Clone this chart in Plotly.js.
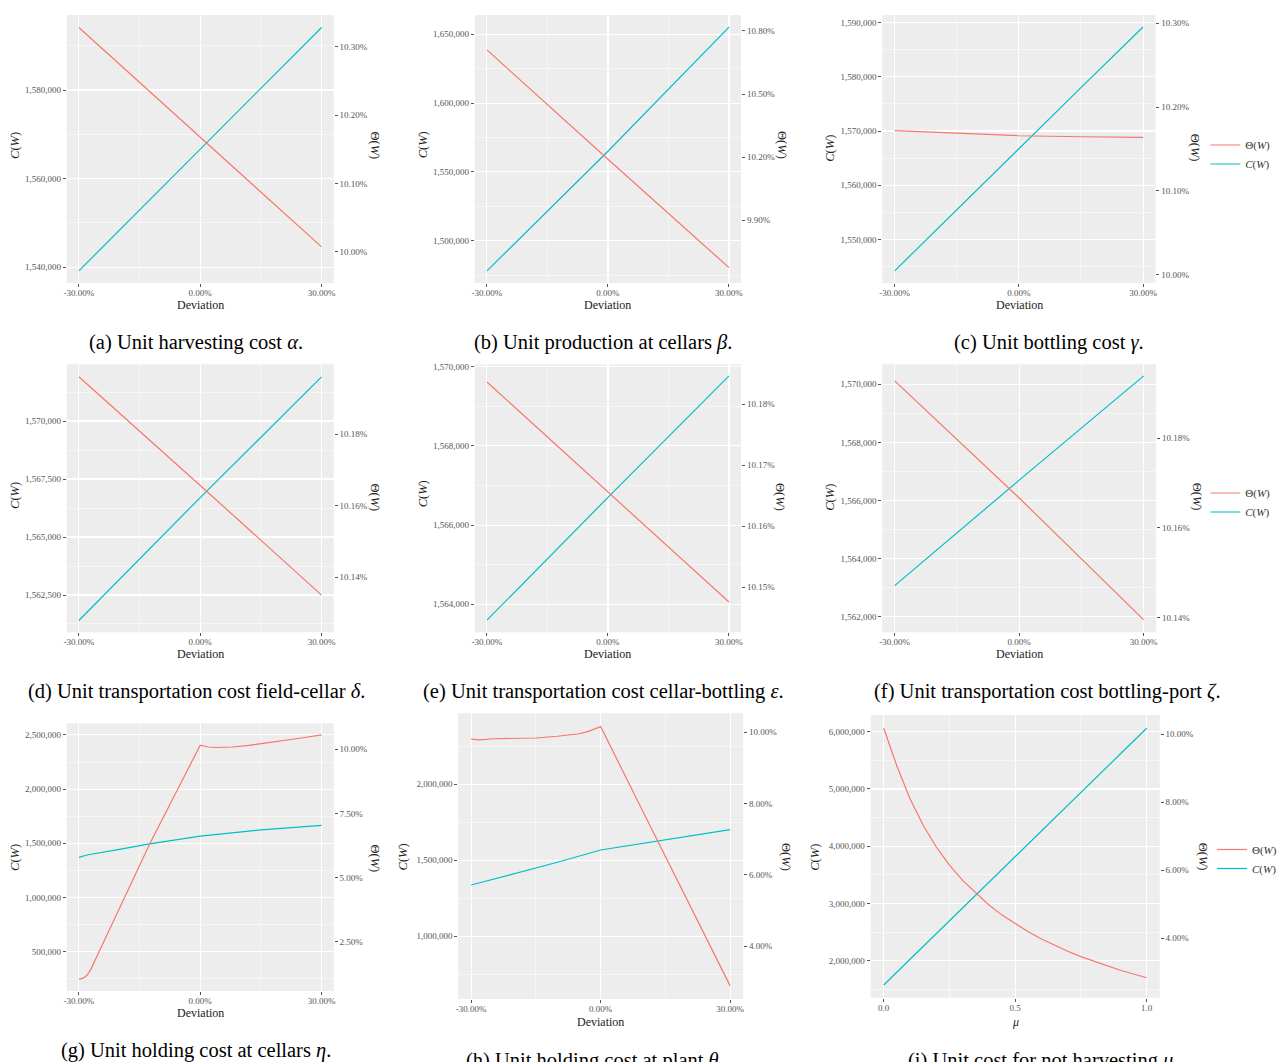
<!DOCTYPE html>
<html>
<head>
<meta charset="utf-8">
<script src="https://cdn.plot.ly/plotly-3.0.1.min.js"></script>
<style>html,body{margin:0;padding:0;background:#fff;overflow:hidden;}#chart{width:1282px;height:1062px;}</style>
</head>
<body>
<div id="chart"></div>
<script>
// ---------------- DATA ----------------
const dev3 = [-30, 0, 30];               // deviation (%) for straight-line panels
const devTicks = [-30, 0, 30];
const devTickText = ['-30.00%', '0.00%', '30.00%'];

// (a) harvesting cost alpha
const costA  = [1539200, 1566700, 1594100];
const thetaA = [10.328, 10.167, 10.007];
// (b) production at cellars beta
const costB  = [1478200, 1565000, 1655100];
const thetaB = [10.710, 10.190, 9.675];
// (c) bottling cost gamma
const devC   = [-30, -15, 0, 15, 30];
const costC  = [1544200, 1555500, 1566700, 1578000, 1589200];
const thetaC = [10.1717, 10.1686, 10.1657, 10.1645, 10.1638];
// (d) transport field-cellar delta
const costD  = [1561400, 1566700, 1571900];
const thetaD = [10.1961, 10.1657, 10.1350];
// (e) transport cellar-bottling epsilon
const costE  = [1563600, 1566700, 1569770];
const thetaE = [10.1836, 10.1656, 10.1476];
// (f) transport bottling-port zeta
const costF  = [1563070, 1566700, 1570290];
const thetaF = [10.1928, 10.1667, 10.1395];
// (g) holding cost at cellars eta
const devGt  = [-30, -29, -28, -27, -26, -25, -20, -15, -12.5, -10, -5, 0, 2, 4, 8, 12, 16, 20, 25, 30];
const thetaG = [1.05, 1.08, 1.20, 1.44, 1.79, 2.13, 3.80, 5.47, 6.31, 7.08, 8.62, 10.16, 10.09, 10.07, 10.09, 10.15, 10.24, 10.32, 10.44, 10.56];
const devGc  = [-30, -28, -20, -12.5, 0, 15, 30];
const costG  = [1370000, 1392000, 1444000, 1494000, 1567000, 1623000, 1666000];
// (h) holding cost at plant theta
const devHt  = [-30, -28, -25, -20, -15, -10, -5, -3, 0, 10, 20, 30];
const thetaH = [9.81, 9.79, 9.82, 9.83, 9.84, 9.89, 9.96, 10.02, 10.16, 7.73, 5.31, 2.89];
const devHc  = [-30, -20, -10, 0, 15, 30];
const costH  = [1337500, 1410000, 1487000, 1567800, 1635500, 1701300];
// (i) unit cost for not harvesting mu
const muT    = [0, 0.05, 0.1, 0.15, 0.2, 0.25, 0.3, 0.35, 0.4, 0.45, 0.5, 0.55, 0.6, 0.65, 0.7, 0.75, 0.8, 0.85, 0.9, 0.95, 1.0];
const thetaI = [10.17, 9.06, 8.10, 7.32, 6.68, 6.15, 5.70, 5.33, 4.98, 4.68, 4.43, 4.19, 3.98, 3.79, 3.62, 3.46, 3.32, 3.19, 3.06, 2.95, 2.84];
const muC    = [0, 0.5, 1.0];
const costI  = [1575500, 3813000, 6059400];
const muTicks = [0, 0.5, 1.0];
const muTickText = ['0.0', '0.5', '1.0'];

const captions = [
  '(a) Unit harvesting cost <i>α</i>.',
  '(b) Unit production at cellars <i>β</i>.',
  '(c) Unit bottling cost <i>γ</i>.',
  '(d) Unit transportation cost field-cellar <i>δ</i>.',
  '(e) Unit transportation cost cellar-bottling <i>ε</i>.',
  '(f) Unit transportation cost bottling-port <i>ζ</i>.',
  '(g) Unit holding cost at cellars <i>η</i>.',
  '(h) Unit holding cost at plant <i>θ</i>.',
  '(i) Unit cost for not harvesting <i>μ</i>.'
];
const nameTheta = 'Θ(<i>W</i>)';
const nameCost = '<i>C</i>(<i>W</i>)';

// ---------------- LAYOUT CONFIG ----------------
const W = 1282, H = 1062;
const FONT = 'Liberation Serif, Times New Roman, serif';
const RED = '#F8766D', CYAN = '#00BFC4';
const TICKC = '#555555';
const PANELBG = '#EDEDED';

const panels = [
  {xt:dev3, t:thetaA, xc:dev3, c:costA, box:[67,15,335,283], xr:[-33,33], yl:[1536458,1596921], dl:20000, yr:[9.9542,10.3464], r0:0, dr:0.1,
   cap:[197,342], ct:[15,145], tt:[376,145], xtl:[201,305], leg:null},
  {xt:dev3, t:thetaB, xc:dev3, c:costB, box:[476.7,15,744,283], xr:[-33,33], yl:[1469400,1663900], dl:50000, yr:[9.602,10.876], r0:9.9, dr:0.3,
   cap:[605,342], ct:[425,145], tt:[785,145], xtl:[610,305], leg:null},
  {xt:devC, t:thetaC, xc:devC, c:costC, box:[885.7,15,1160,283], xr:[-33,33], yl:[1541960,1591410], dl:10000, yr:[9.9898,10.3099], r0:0, dr:0.1,
   cap:[1053,342], ct:[833,148], tt:[1200,148], xtl:[1023,305], leg:'legend'},
  {xt:dev3, t:thetaD, xc:dev3, c:costD, box:[67,364.3,335,632.3], xr:[-33,33], yl:[1560892,1572444], dl:2500, yr:[10.1246,10.1996], r0:0, dr:0.02,
   cap:[197,691], ct:[15,495], tt:[376,497], xtl:[201,654], leg:null},
  {xt:dev3, t:thetaE, xc:dev3, c:costE, box:[476.7,364.3,744,632.3], xr:[-33,33], yl:[1563293,1570061], dl:2000, yr:[10.14264,10.1865], r0:0, dr:0.01,
   cap:[606,691], ct:[425,494], tt:[783,497], xtl:[610,654], leg:null},
  {xt:dev3, t:thetaF, xc:dev3, c:costF, box:[885.7,364.3,1160.7,632.3], xr:[-33,33], yl:[1561463,1570688], dl:2000, yr:[10.13674,10.1965], r0:0, dr:0.02,
   cap:[1052,691], ct:[833,497], tt:[1202,497], xtl:[1023,654], leg:'legend2'},
  {xt:devGt, t:thetaG, xc:devGc, c:costG, box:[67,723.3,335,991], xr:[-33,33], yl:[137454,2607011], dl:500000, yr:[0.588,11.0125], r0:0, dr:2.5,
   cap:[197,1050], ct:[15,857], tt:[376,858], xtl:[201,1013], leg:null},
  {xt:devHt, t:thetaH, xc:devHc, c:costH, box:[460,713.3,746,999], xr:[-33,33], yl:[587500,2467105], dl:500000, yr:[2.522,10.533], r0:0, dr:2,
   cap:[597,1060], ct:[405,857], tt:[789,857], xtl:[603,1022], leg:null},
  {xt:muT, t:thetaI, xc:muC, c:costI, box:[874,715,1164.3,997.7], xr:[-0.05,1.05], yl:[1353712,6291703], dl:1000000, yr:[2.255,10.558], r0:0, dr:2,
   cap:[1047,1060], ct:[818,857], tt:[1208,857], xtl:[1019,1022], leg:'legend3', mu:true}
];

const px = v => v / W;
const py = v => 1 - v / H;

const layout = {
  width: W, height: H,
  margin: {l:0, r:0, t:0, b:0, pad:0},
  paper_bgcolor: '#ffffff',
  plot_bgcolor: PANELBG,
  font: {family: FONT, color: '#000'},
  showlegend: true,
  annotations: [],
  shapes: []
};
const data = [];

function ann(text, x, y, size, angle, color) {
  layout.annotations.push({
    text: text, xref: 'paper', yref: 'paper', x: px(x), y: py(y),
    xanchor: 'center', yanchor: 'middle', showarrow: false,
    textangle: angle || 0, font: {family: FONT, size: size, color: color || '#000'}
  });
}

panels.forEach((p, k) => {
  const xid = 'x' + (k + 1), yl = 'y' + (2 * k + 1), yr = 'y' + (2 * k + 2);
  const xkey = 'xaxis' + (k + 1), ylkey = 'yaxis' + (2 * k + 1), yrkey = 'yaxis' + (2 * k + 2);
  const tickfont = {family: FONT, size: 9, color: TICKC};
  layout[xkey] = {
    domain: [px(p.box[0]), px(p.box[2])], anchor: yl, range: p.xr,
    tickmode: 'array', tickvals: p.mu ? muTicks : devTicks, ticktext: p.mu ? muTickText : devTickText,
    ticks: 'outside', ticklen: 3, tickwidth: 1, tickcolor: TICKC, tickfont: tickfont, ticklabelstandoff: -2,
    showgrid: true, gridcolor: '#ffffff', gridwidth: 1.1,
    minor: {tickmode: 'linear', tick0: p.mu ? 0.25 : -15, dtick: p.mu ? 0.5 : 30, showgrid: true, gridcolor: '#ffffff', gridwidth: 0.5, ticks: ''},
    zeroline: false, showline: false, fixedrange: true
  };
  layout[ylkey] = {
    domain: [py(p.box[3]), py(p.box[1])], anchor: xid, range: p.yl,
    tickmode: 'linear', tick0: 0, dtick: p.dl, tickformat: ',.0f',
    ticks: 'outside', ticklen: 3, tickwidth: 1, tickcolor: TICKC, tickfont: tickfont,
    showgrid: true, gridcolor: '#ffffff', gridwidth: 1.1,
    minor: {tickmode: 'linear', tick0: p.dl / 2, dtick: p.dl, showgrid: true, gridcolor: '#ffffff', gridwidth: 0.5, ticks: ''},
    zeroline: false, showline: false, fixedrange: true
  };
  layout[yrkey] = {
    overlaying: yl, side: 'right', anchor: xid, range: p.yr,
    tickmode: 'linear', tick0: p.r0, dtick: p.dr, tickformat: '.2f', ticksuffix: '%',
    ticks: 'outside', ticklen: 3, tickwidth: 1, tickcolor: TICKC, tickfont: tickfont,
    showgrid: false, zeroline: false, showline: false, fixedrange: true
  };

  const show = !!p.leg;
  data.push({
    type: 'scatter', mode: 'lines', x: p.xt, y: p.t, xaxis: xid, yaxis: yr,
    name: nameTheta, line: {color: RED, width: 1.2}, showlegend: show, legend: p.leg || 'legend', hoverinfo: 'skip'
  });
  data.push({
    type: 'scatter', mode: 'lines', x: p.xc, y: p.c, xaxis: xid, yaxis: yl,
    name: nameCost, line: {color: CYAN, width: 1.2}, showlegend: show, legend: p.leg || 'legend', hoverinfo: 'skip'
  });

  ann(captions[k], p.cap[0], p.cap[1], 20.5, 0, '#000');
  ann('<i>C</i>(<i>W</i>)', p.ct[0], p.ct[1], 12.5, -90, '#222');
  ann('Θ(<i>W</i>)', p.tt[0], p.tt[1], 12.5, 90, '#222');
  ann(p.mu ? '<i>μ</i>' : 'Deviation', p.xtl[0], p.xtl[1], 12, 0, '#222');
});

// legends (one per right-column panel)
const legPos = [['legend', 1210, 130.5], ['legend2', 1210, 478.5], ['legend3', 1217, 835]];
legPos.forEach(([key, x, y]) => {
  layout[key] = {
    x: px(x), y: py(y), xanchor: 'left', yanchor: 'top',
    bgcolor: 'rgba(0,0,0,0)', borderwidth: 0, tracegroupgap: 0,
    font: {family: FONT, size: 11, color: '#333'}, itemclick: false, itemdoubleclick: false
  };
});

Plotly.newPlot('chart', data, layout, {staticPlot: true, displayModeBar: false});
</script>
</body>
</html>
